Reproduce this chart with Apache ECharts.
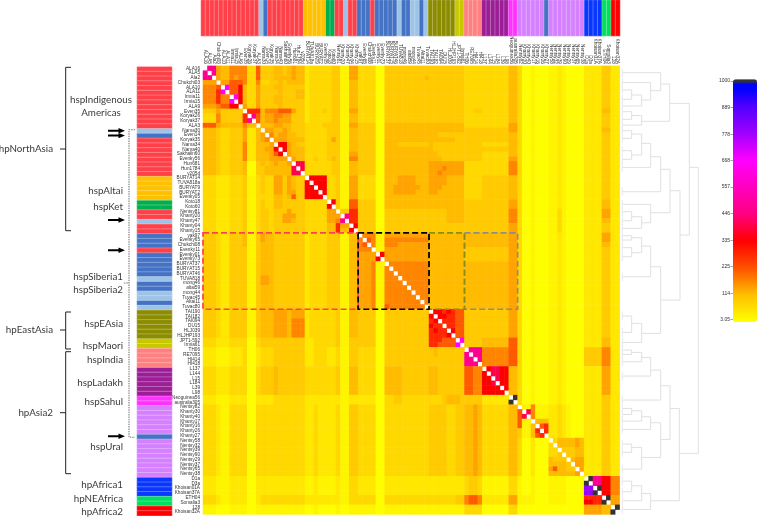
<!DOCTYPE html>
<html>
<head>
<meta charset="utf-8">
<style>html,body{margin:0;padding:0;background:#fff}#c{width:757px;height:519px}</style>
<script src="https://cdn.jsdelivr.net/npm/echarts@6/dist/echarts.min.js"></script>
</head>
<body>
<div id="c"></div>
<script>
const samples = ["ALA16","ALA5","Ala2","Chukchi03","ALA10","ALA11","Irmia11","Irmia15","ALA9","Even35","Koryak26","Koryak37","ALA3",
"Nama30","Even14","Koryak35","Nama34","Nama40","Sakhalin60","Evenky56","Hun681","Hun1784","v205d",
"BURYAT14","TUVA818a","BURYAT9","BURYAT2","Evenky05","Koto18","Koto60","Nentsy81","Khanty20","Khanty47","Khanty04","Khanty15",
"yak97","Evenky65","Chukchi08","Evenky11","Evenky01","Evenky73","BURYAT37","BURYAT15","BURYAT46","TUVA818","mong46","altai59","mong44","Tuvac45","Altai11","Tuvac80",
"TAI190","TAI182","TAI094","DU15","HLJ039","HLJHP193","JPT1-592","Irmia61","TH06","RE7095","HI414","HI418",
"L137","L144","L15","L184","L39","L98","Neoguinea56","australia305",
"Nentsy82","Khanty30","Khanty40","Khanty17","Khanty16","Khanty26","Khanty27",
"Nentsy58","Nentsy32","Nentsy39","Nentsy90","Nentsy29","Nentsy37","Nentsy65","Nentsy38",
"D1a","D3a","Khoisan01A","Khoisan37A","ETH04","Somalia3","128","Khoisan32A"];

const sampleGroups = "RRRRRRRRRRRRRLBRRRRRRRRAAAAAGGRRLRRBBBRBBBBBLBBLLBLOOOOOOYYSSSSPPPPPPMMVVVVVVBVVVVVVVVDDDDNNXX";
const groupColors = {R:"#ff4049",L:"#9dc3e6",B:"#4472c4",A:"#ffc000",G:"#00b050",O:"#8c8c00",Y:"#c8c800",S:"#ff8080",P:"#9b1e96",M:"#ff33ff",V:"#d580ff",D:"#0a37ff",N:"#00e060",X:"#ff0000"};

const levelValues = {"0":5,"1":22,"2":45,"3":70,"4":95,"5":118,"6":142,"7":172,"8":215,"9":280,"a":335,"b":400,"c":470,"d":668,"e":790,"f":1000};

const matrixRows = [
".cc6557777338 4445545655 23333 34 41166 3333004444444444 44444444 3333 333333 55 300100011210000 22224422",
"c.c6557777338 4445545655 23333 34 41166 3333004444444444 44444444 3333 333333 55 300100011210000 22224422",
"cc.6557677338 4445555655 23333 34 41166 3333004444444445 44444444 3333 333333 55 300100011210000 22224422",
"666.668887337 3344545555 23333 34 41155 3333004444444444 44444444 3333 333333 55 300100011210000 22224422",
"7778.d88a5336 4445544444 23333 34 41155 3333004444444444 44444444 3333 333333 55 300100011210000 22224422",
"7779d.88a5336 4444544455 23333 34 41155 3333004444444444 44444444 3333 333333 55 300100011210000 22224422",
"777977.da5336 4445544455 23333 34 41155 3333004444444444 44444444 3333 333333 55 300100011210000 22224422",
"777977d.a5336 4445544444 23333 34 41155 3333004444444444 44444444 3333 333333 55 300100011210000 22224422",
"666788aa.6336 4444544444 23333 34 41155 3333004444444444 44444444 3333 333333 55 300100011210000 22224422",
"444644444.999 5777888644 23334 34 41166 3333004444444444 44444444 3344 333333 55 300100011210000 22225522",
"3337444449.c8 5667766444 23333 34 41155 3333004444444444 44444444 3333 333333 55 300100011210000 22224422",
"3337444449c.8 5667666444 23333 34 41155 3333004444444444 44444444 3333 333333 55 300100011210000 22224422",
"8886555557 55. 5556655444 33334 44 41166 4444005555555555 55555555 3333 333333 66 300100011210000 22224422",
"5554334446225 .665565444 33333 44 41155 4444005555555555 55555555 4444 444444 66 300100011210000 22225522",
"5554334446225 6.75665544 33333 44 41155 4444005555555555 55444444 4444 444444 55 300100011210000 22224422",
"5554334446225 67.6665555 33333 46 41155 4444005555555555 55555544 4444 444444 55 300100011210000 22224422",
"5554334447225 556.aa6544 33333 44 41155 4444005554444444 54444444 4444 333333 55 300100011210000 22224422",
"5554334447225 566a.a6555 33333 44 41155 4444005555555555 54444444 4444 444444 55 300100011210000 22224422",
"5554334447225 5568a.6555 33333 44 41166 4444005555555555 55444444 4444 333333 55 300100011210000 22224422",
"5554334447225 556666.655 33433 45 41177 4444005555555555 55544444 4444 333333 66 300100011210000 22224422",
"5554334445004 5456556.bb 33333 34 41155 4444005555555555 66666666 3333 333333 77 300100011210000 22224422",
"5554334445004 45555 55b.b 33333 34 41155 4444005555555555 66676666 3333 333333 77 300100011210000 22224422",
"5554334445004 45555 55bb. 33333 34 41155 4444005555555555 66766666 3333 333333 77 300100011210000 22224422",
"3332223334113 4336646544 .aaaa 33 41166 3333005556666555 66665555 3333 444444 55 300100011210000 22224422",
"3332223334113 4336646544 a.aaa 33 41166 3333005556666555 66665555 3333 444444 55 300100011210000 22224422",
"3332223334113 4336646544 aa.aa 33 41166 3333005566666655 66655555 3333 444444 55 300100011210000 22224422",
"3332223334113 4336646644 aaa.a 33 41166 3333005566666555 66555555 3333 444444 55 300100011210000 22224422",
"3332223334113 3335545844 aaaa. 33 41166 3333005555555555 55555555 3333 444444 55 300100011210000 22224422",
"3332223334113 4335544444 33333 .a 41188 4444005555555555 55555555 4444 444444 66 300100011210000 22225522",
"3332223334113 4335544444 33333 a. 41188 4444005555555555 55555555 4444 444444 66 300100011210000 22225522",
"3332223334113 4434446444 33333 66 .4499 4444004444444444 44445555 4444 444444 77 300100011310000 22226622",
"3332223334113 4434466644 33333 66 6.c99 4444004444444444 44445555 4444 444444 77 300100011310000 22226622",
"3332223334113 4434466544 33333 66 7c.99 4444004444444444 44445555 4444 444444 77 300100011310000 22225522",
"3332223334113 4434444444 33333 55 966.a 4444004444444444 44444444 4444 444444 66 300100011310000 22224422",
"3332223334113 4434444444 33333 55 955a. 4444004444444444 44444444 4444 444444 66 300100011310000 22224422",
"4443224445114 6554444444 23333 44 41155 .777116666666666 55555555 5555 555555 66 300100011210000 22226622",
"4443224445114 6554444444 23333 44 41155 7.87117777777777 55555555 5555 555555 66 300100011210000 22226622",
"4443224445114 5554444444 23333 44 41155 78.7117776666666 55555555 5555 555555 66 300100011210000 22225522",
"4443224444114 5554444444 23333 44 41155 777.116666666666 55555555 4444 444444 66 300100011210000 22224422",
"4443224444114 5554444444 23333 44 41155 6666.a6666666666 55555555 4444 444444 66 300100011210000 22224422",
"4443224444114 5554444444 23333 44 41155 6666a.6666666666 55555555 4444 444444 66 300100011210000 22224422",
"4443224444114 5554444444 23333 44 41155 666711.777777777 55555555 5555 555555 66 300100011210000 22224422",
"4443224444114 5554444444 23333 44 41155 6667117.77777777 55555555 5555 555555 66 300100011210000 22224422",
"4443224444114 5554444444 23333 44 41155 66671177.7777777 55555555 5555 555555 66 300100011210000 22224422",
"4443224444114 6654444444 23333 44 41155 666711777.777777 55555555 5555 555555 66 300100011210000 22224422",
"4443224444114 6654444444 23333 44 41155 6667117777.77777 55555555 5555 555555 66 300100011210000 22224422",
"4443224444114 5554444444 23333 44 41155 66671177777.7777 55555555 5555 555555 66 300100011210000 22224422",
"4443224444114 5554444444 23333 44 41155 666711777777.777 55555555 5555 555555 66 300100011210000 22224422",
"4443224444114 5554444444 23333 44 41155 6667117777777.77 55555555 5555 555555 66 300100011210000 22224422",
"4443224444114 5554444444 23333 44 41155 66671177777777.7 55555555 5555 555555 66 300100011210000 22224422",
"4443224444114 5554444444 23333 44 41155 666711877777777. 55555555 5555 555555 66 300100011210000 22224422",
"4443224444114 5556665666 23333 33 41155 4444004444444444 .aa9a988 4444 444444 66 300100011210000 22224422",
"4443224444114 5556665666 23333 33 41155 4444004444444444 a.aa9988 4444 444444 66 300100011210000 22224422",
"4443224444114 5556665777 23333 33 41155 4444004444444444 9a.99988 4444 444444 66 300100011210000 22224422",
"4443224444114 5556665777 23333 33 41155 4444004444444444 a99.9988 4444 444444 66 300100011210000 22224422",
"4443224444114 5556665777 23333 33 41155 4444004444444444 9a99.a88 4444 444444 66 300100011210000 22224422",
"4443224444114 5556665777 23333 33 41155 4444004444444444 9999a.88 4444 444444 66 300100011210000 22224422",
"3332223333003 4444444444 22333 33 41144 4444004444444444 999888.d 4444 555555 88 300100011210000 22225522",
"3332223333003 4444444444 22333 33 41144 4444004444444444 998888d. 4444 555555 88 300100011210000 22225522",
"2221112223002 3334444444 22333 22 31144 3333004444444444 45444444 .ccc 777777 88 300100011210000 44447722",
"2221112223002 3334444444 22333 22 31144 3333004444444444 45444444 c.cc 777777 88 300100011210000 44447722",
"2221112223002 3334444444 22333 22 31144 3333004444444444 44444444 cc.c 777777 88 300100011210000 44447722",
"2221112223002 3334444444 22333 22 31144 3333004444444444 44444444 ccc. 777777 88 300100011210000 44447722",
"3332223333003 4445444444 33333 33 41155 3333005555444444 55444444 8877 .abbaa 55 300100011210000 22226622",
"3332223333003 4445444444 33333 33 41155 3333005555444444 55444444 8877 a.bbaa 55 300100011210000 22226622",
"3332223333003 4445444444 33333 33 41155 3333005555444444 55444444 8877 aa.baa 55 300100011210000 22226622",
"3332223333003 4445444444 33333 33 41155 3333005555444444 55444444 8877 aab.aa 55 300100011210000 22226622",
"3332223333003 4445444444 33333 33 41155 3333005555444444 55444444 8877 aaaa.a 55 300100011210000 22226622",
"3332223333003 4445444444 33333 33 41155 3333005555444444 55444444 8877 aaaaa. 55 300100011210000 22226622",
"2221112222002 2223333333 22222 22 21122 2222003344333333 33345554 4444 222222 .f 300100011210000 22224422",
"2221112222002 2223333333 22222 22 21122 2222003344333333 33345554 4444 222222 f. 300100011210000 22224422",
"3332113333003 3333333333 22322 22 31144 3333003333333333 44443344 5565 333333 55 .1171112232 1000 22224422",
"3332113333003 3333333333 22322 22 31144 3333003333333333 44443344 5565 333333 55 8.b711122321000 22224422",
"3332113333003 3333333333 22322 22 31144 3333003333333333 44443344 5565 333333 55 8b.711122321000 22224422",
"3332113333003 3333333333 22322 22 31144 3333003333333333 44443344 5565 333333 55 811.55522321000 22224422",
"3332113333003 3333333333 22322 22 31144 3333003333333333 44443344 5565 333333 55 8115.8922321000 22224422",
"3332113333003 3333333333 22322 22 31144 3333003333333333 44443344 5565 333333 55 41159.922321000 22224422",
"3332113333003 3333333333 22322 22 31144 3333003333333333 44443344 5565 333333 55 411589.22321000 22224422",
"3332113333003 3333333333 22322 22 31144 3333003333333333 44443344 5565 333333 55 3002000.3555565 22224422",
"3332113333003 3333333333 22322 22 31144 3333003333333333 44443344 5565 333333 55 30020003.555565 22224422",
"3332113333003 3333333333 22322 22 31144 3333003333333333 44443344 5565 333333 55 300200033.44455 22224422",
"3332113333003 3333333333 22322 22 31144 3333003333333333 44443344 5565 333333 55 3002000334.4455 22224422",
"3332113333003 3333333333 22322 22 31144 3333003333333333 44443344 5565 333333 55 30020005444.566 22224422",
"3332113333003 3333333333 22322 22 31144 3333003333333333 44443344 5565 333333 55 300200055554.66 22224422",
"3332113333003 3333333333 22322 22 31144 3333003333333333 44443344 5565 333333 55 3002000685544.6 22224422",
"3332113333003 3333333333 22322 22 31144 3333003333333333 44443344 5565 333333 55 30020005555556. 22224422",
"2221112222002 2222222222 11211 11 21133 2222002222222222 22222222 3443 111111 33 100100011110000 .fccaa77",
"2221112222002 2222222222 11211 11 21133 2222002222222222 22222222 3443 111111 33 100100011110000 f.ccaa77",
"2221112222002 2222222222 11211 11 21133 2222002222222222 22222222 3443 111111 33 100100011110000 ee.faa77",
"2221112222002 2222222222 11211 11 21133 2222002222222222 22222222 3443 111111 33 100100011110000 eef.aa77",
"3332112222002 3333333333 22222 22 21133 3333003333333333 33333344 7887 222222 66 111100011110000 9999.f66",
"3332112222002 3333333333 22222 22 21133 3333003333333333 33333344 7887 222222 66 111100011110000 aa99f.66",
"1110001111001 1111111111 00100 00 10011 1111001111111111 11111111 3333 000000 33 000000000000000 666655.f",
"1110001111001 1111111111 00100 00 10011 1111001111111111 11111111 3333 000000 33 000000000000000 666655f."
];

const tickLabels = [3.05,114,225,335,446,557,668,778,889,1000];
const colorStops = [[3.05,"#ffff00"],[114,"#ffbf00"],[225,"#ff5000"],[335,"#ff0000"],[446,"#ff0080"],[557,"#ff00c0"],[668,"#ff00ff"],[778,"#a000ff"],[889,"#5000ff"],[960,"#0000ff"],[982,"#0000ff"],[985,"#333333"],[1000,"#333333"]];

// hA, rowA, hB, rowB, hMerge
const dendroNodes = [
[7,5.05,7,7.01,35],[35,6.1,7,8.41,65],[7,3.51,65,7.15,92],[7,1.42,92,5.19,122],[7,9.6,7,11.2,35],[35,10.4,7,12.4,65],[122,3.8,65,11.62,149],
[7,13.58,7,15.18,35],[7,17.77,7,19.59,35],[35,14.28,35,18.68,65],[65,16.23,7,21.27,92],[92,19.03,7,26.37,122],
[7,30.56,7,32.45,35],[35,31.61,7,34.05,65],[7,29.02,65,32.87,92],[122,21.68,92,30.77,150],
[7,35.59,7,36.5,35],[7,38.1,7,40,35],[35,36,35,39.15,65],[65,37.76,7,44.19,92],
[7,52.43,7,55.85,35],[35,53.96,7,57.95,65],[92,42.09,65,56.06,122],[150,26.16,122,49.08,180],[149,7.85,180,35.45,208],
[7,59.56,7,60.47,35],[35,60.05,7,62,65],[65,61.1,7,65.01,92],[92,63.75,7,70.04,122],
[7,71.79,7,73.05,35],[35,72.28,7,74.44,65],[65,73.54,7,76.19,92],[7,79.27,7,81,35],[35,79.96,7,84.51,65],[92,74.79,65,82.06,122],
[122,67.04,122,78.29,150],[7,87.02,7,89.26,35],[35,88,7,91.15,65],[65,89.61,7,92.96,92],[150,71.79,92,91.15,178],[208,21.27,178,81.2,235]
];

// text, anchor, x, y
const annotations = [
["hspIndigenous","center",101,100],["Americas","center",101,113],["hpNorthAsia","right",53,149],
["hspAltai","right",123,190.5],["hspKet","right",123,206.7],["hspSiberia1","right",123,277.3],["hspSiberia2","right",123,289.7],
["hpEastAsia","right",53,330],["hspEAsia","right",123,324],["hspMaori","right",123,345.7],["hspIndia","right",123,360],
["hspLadakh","right",123,382.7],["hspSahul","right",123,402.3],["hpAsia2","right",53,412.7],["hspUral","right",123,447],
["hpAfrica1","right",123,485.3],["hpNEAfrica","right",123,499],["hpAfrica2","right",123,512.3]
];
const brackets = [[67.3,230.7,149],[312,349,330],[351.7,473.7,412.7]];
const arrowRows = [130.7,135.6,220,250.3,436.3];
// colStart, colEnd, rowStart, rowEnd, colour, width
const boxes = [[0,35,35,51,"#ff4050",1.7],[59,71,35,51,"#8c8c8c",1.6],[51,59,35,51,"#8c8c14",1.6],[35,51,35,51,"#000000",1.7]];

const G = {left:203, top:65.9, width:416.6, height:448.5};
const cellW = G.width/samples.length, cellH = G.height/samples.length;

const rows = matrixRows.map(s=>s.replace(/\s/g,""));
rows.forEach((s,i)=>{ if(s.length!==samples.length) throw new Error("row "+i+" len "+s.length); });
const heat = [];
rows.forEach((s,r)=>{ for(let c=0;c<s.length;c++){ if(s[c]!==".") heat.push([c,r,levelValues[s[c]]]); } });

function hex(c){return [1,3,5].map(i=>parseInt(c.substr(i,2),16));}
const palette=[];
for(let i=0;i<=400;i++){
  const v=3.05+(1000-3.05)*i/400;
  let k=0; while(k<colorStops.length-2 && v>colorStops[k+1][0]) k++;
  const a=colorStops[k],b=colorStops[k+1],t=Math.min(1,Math.max(0,(v-a[0])/(b[0]-a[0])));
  const ca=hex(a[1]),cb=hex(b[1]);
  palette.push("rgb("+ca.map((x,j)=>Math.round(x+(cb[j]-x)*t)).join(",")+")");
}

const strip = (xf)=>samples.map((s,i)=>({value:xf(i),itemStyle:{color:groupColors[sampleGroups[i]],borderColor:"rgba(255,255,255,0.55)",borderWidth:0.5}}));

const hiddenAxis=(extra)=>Object.assign({show:false},extra);

const graphics=[];
const lineStroke="#222";
annotations.forEach(a=>graphics.push({type:"text",silent:true,x:a[2],y:a[3],style:{text:a[0],fill:"#3a3a3a",font:'9.8px Lato',textAlign:a[1],textVerticalAlign:"middle"}}));
brackets.forEach(b=>graphics.push({type:"polyline",silent:true,shape:{points:[[71,b[0]],[65.7,b[0]],[65.7,b[1]],[71,b[1]]]},style:{stroke:lineStroke,lineWidth:1,fill:null}},
  {type:"line",silent:true,shape:{x1:60,y1:b[2],x2:65.7,y2:b[2]},style:{stroke:lineStroke,lineWidth:1}}));
arrowRows.forEach(y=>graphics.push({type:"polygon",silent:true,shape:{points:[[108,y-1],[118.5,y-1],[118.5,y-2.7],[125,y],[118.5,y+2.7],[118.5,y+1],[108,y+1]]},style:{fill:"#000"}}));
graphics.push({type:"polyline",silent:true,shape:{points:[[135,129.7],[129,129.7],[129,437.3],[135,437.3]]},style:{stroke:"#777",lineWidth:1.1,lineDash:[1.4,1],fill:null}},
  {type:"line",silent:true,shape:{x1:124,y1:283,x2:129,y2:283},style:{stroke:"#777",lineWidth:1,lineDash:[1.4,1]}});
boxes.forEach(b=>graphics.push({type:"rect",silent:true,z:50,shape:{x:G.left+b[0]*cellW,y:G.top+b[2]*cellH,width:(b[1]-b[0])*cellW,height:(b[3]-b[2])*cellH},style:{fill:null,stroke:b[4],lineWidth:b[5],lineDash:[6,3]}}));

const option={
  animation:false,
  backgroundColor:"#fff",
  grid:[
    {left:G.left,top:G.top,width:G.width,height:G.height},
    {left:137,top:66.7,width:35,height:449},
    {left:201,top:0,width:419,height:36},
    {left:620,top:G.top,width:100,height:G.height},
    {left:733,top:81,width:24,height:238.7}
  ],
  xAxis:[
    {type:"category",gridIndex:0,position:"top",data:samples,axisLine:{show:false},axisTick:{show:false},splitLine:{show:false},
      axisLabel:{interval:0,rotate:90,fontSize:4.7,margin:2,color:"#333",fontFamily:"Liberation Sans"}},
    hiddenAxis({type:"category",gridIndex:1,data:["g"]}),
    hiddenAxis({type:"category",gridIndex:2,data:samples}),
    hiddenAxis({type:"value",gridIndex:3,min:0,max:300}),
    hiddenAxis({type:"value",gridIndex:4,min:0,max:1})
  ],
  yAxis:[
    {type:"category",gridIndex:0,inverse:true,data:samples,axisLine:{show:false},axisTick:{show:false},splitLine:{show:false},
      axisLabel:{interval:0,fontSize:4.7,margin:3,color:"#333",fontFamily:"Liberation Sans"}},
    hiddenAxis({type:"category",gridIndex:1,inverse:true,data:samples}),
    hiddenAxis({type:"category",gridIndex:2,data:["g"]}),
    hiddenAxis({type:"value",gridIndex:3,min:0,max:samples.length,inverse:true}),
    {type:"value",gridIndex:4,min:3.05,max:1000,axisLine:{show:false},splitLine:{show:false},
      axisTick:{show:true,length:2.5,customValues:tickLabels,lineStyle:{color:"#666",width:0.6}},
      axisLabel:{customValues:tickLabels,fontSize:5,margin:3,color:"#333",fontFamily:"Liberation Sans",formatter:v=>String(v)}}
  ],
  visualMap:[{type:"continuous",seriesIndex:0,min:3.05,max:1000,left:733,top:79.3,itemWidth:24,itemHeight:242.4,padding:0,calculable:false,realtime:false,hoverLink:false,text:null,inRange:{color:palette}}],
  series:[
    {type:"heatmap",xAxisIndex:0,yAxisIndex:0,data:heat,progressive:0,silent:true,emphasis:{disabled:true}},
    {type:"heatmap",xAxisIndex:1,yAxisIndex:1,data:strip(i=>[0,i,1]),progressive:0,silent:true,emphasis:{disabled:true}},
    {type:"heatmap",xAxisIndex:2,yAxisIndex:2,data:strip(i=>[i,0,1]),progressive:0,silent:true,emphasis:{disabled:true}},
    {type:"custom",xAxisIndex:3,yAxisIndex:3,data:dendroNodes,silent:true,clip:false,encode:{x:[0,2,4],y:[1,3]},
      renderItem:(p,api)=>{
        const hA=api.value(0),rA=api.value(1),hB=api.value(2),rB=api.value(3),hM=api.value(4);
        const pts=[[hA,rA],[hM,rA],[hM,rB],[hB,rB]].map(q=>api.coord(q));
        const kids=[];
        kids.push({type:"polyline",shape:{points:pts},style:{stroke:"#e0e0e0",lineWidth:1,fill:null}});
        [[hA,rA],[hB,rB]].forEach(q=>{ if(q[0]===7){const a=api.coord([7,q[1]-0.9]),b=api.coord([7,q[1]+0.9]);
          kids.push({type:"line",shape:{x1:a[0],y1:a[1],x2:b[0],y2:b[1]},style:{stroke:"#e8e8e8",lineWidth:1}});}});
        return {type:"group",children:kids};
      }}
  ],
  graphic:graphics
};
const chart=echarts.init(document.getElementById("c"),null,{renderer:"canvas"});
chart.setOption(option);
</script>
</body>
</html>
